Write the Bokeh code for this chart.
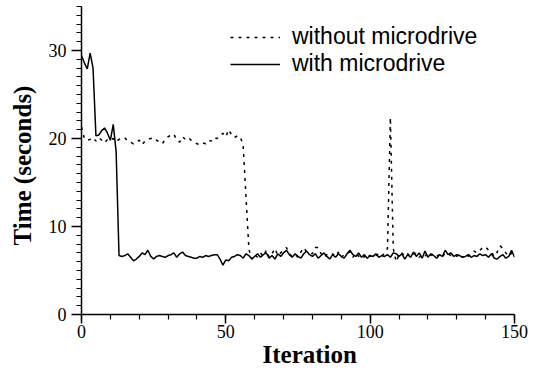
from bokeh.plotting import figure
from bokeh.models import SingleIntervalTicker, Range1d, Legend, LegendItem, Title
from bokeh.embed import file_html
from bokeh.resources import INLINE

iterations = list(range(0, 151))

with_microdrive = [
    29.4, 28.6, 27.9, 29.7, 28.0, 20.3, 20.4, 20.9, 21.2, 20.6,
    19.8, 21.6, 18.5, 6.7, 6.6, 6.7, 6.9, 6.5, 6.1, 6.3,
    6.6, 7.0, 6.8, 7.3, 6.6, 6.3, 6.6, 6.7, 6.6, 6.5,
    6.7, 6.8, 7.0, 6.5, 6.9, 7.1, 6.7, 6.6, 6.5, 6.4,
    6.4, 6.6, 6.5, 6.7, 6.6, 6.7, 6.8, 6.8, 6.3, 5.6,
    6.2, 6.1, 6.5, 6.6, 6.8, 6.7, 6.4, 6.9, 6.7, 6.3,
    6.6, 6.9, 6.5, 6.8, 7.0, 6.4, 6.7, 6.3, 6.9, 6.6,
    7.0, 7.3, 6.8, 6.5, 6.9, 6.6, 6.4, 6.9, 7.2, 6.8,
    6.6, 6.9, 6.4, 6.7, 7.0, 6.6, 6.3, 6.8, 6.5, 6.9,
    6.6, 6.4, 6.9, 7.3, 6.8, 6.6, 7.0, 6.5, 6.8, 6.4,
    6.7, 6.6, 6.9, 6.5, 6.7, 6.6, 6.8, 6.5, 7.0, 6.9,
    6.6, 6.9, 6.3, 6.8, 6.5, 7.1, 6.6, 7.0, 6.4, 7.2,
    6.5, 6.9, 6.7, 6.4, 6.8, 6.6, 7.3, 6.8, 7.0, 6.6,
    6.8, 6.7, 6.5, 6.6, 6.8, 6.5, 6.7, 6.6, 6.9, 6.7,
    6.8, 6.5, 6.9, 6.4, 6.3, 6.6, 6.8, 6.4, 6.6, 7.3,
    6.5,
]

without_microdrive = [
    21.3, 20.0, 19.8, 19.9, 20.1, 19.7, 20.1, 19.8, 19.5, 19.9,
    19.8, 20.0, 19.6, 19.9, 20.0, 20.1, 19.7, 19.6, 19.4, 19.6,
    19.8, 19.3, 19.7, 19.9, 20.0, 20.1, 19.8, 19.6, 19.4, 19.9,
    20.2, 20.4, 20.5, 19.8, 19.6, 20.2, 19.9, 20.1, 19.8, 19.6,
    19.4, 19.3, 19.5, 19.4, 19.8, 19.7, 20.1, 20.0, 20.3, 20.6,
    20.2, 21.0, 20.4, 20.1, 20.3, 20.2, 19.2, 13.3, 7.4, 6.3,
    6.8, 6.5, 7.0, 6.6, 7.3, 6.5, 6.9, 7.5, 6.7, 7.0,
    7.3, 7.6, 6.9, 6.6, 6.8, 6.5, 7.1, 7.6, 7.1, 7.0,
    6.9, 7.6, 7.6, 6.9, 6.5, 6.8, 6.7, 6.9, 6.6, 7.1,
    6.5, 6.8, 7.0, 7.1, 6.5, 7.0, 6.6, 6.8, 6.5, 6.9,
    6.6, 6.8, 6.7, 6.9, 6.6, 7.0, 7.5, 22.4, 7.5, 6.0,
    6.8, 7.0, 6.6, 6.9, 6.6, 6.8, 7.0, 6.5, 6.8, 6.6,
    7.0, 6.7, 6.9, 6.6, 6.8, 6.5, 7.0, 6.9, 6.7, 6.8,
    6.6, 6.9, 6.5, 6.8, 6.6, 6.9, 7.2, 7.0, 7.3, 7.6,
    7.7, 7.3, 7.1, 6.6, 7.1, 7.8, 7.5, 7.0, 6.6, 7.0,
    6.8,
]

x_ticks_interval = 50
y_ticks_interval = 10
x_title = "Iteration"
y_title = "Time (seconds)"
series_labels = ["without microdrive", "with microdrive"]

p = figure(width=548, height=373, output_backend="svg", toolbar_location=None,
           x_range=Range1d(0, 150), y_range=Range1d(0, 35),
           min_border_left=80, min_border_right=34, min_border_top=6,
           min_border_bottom=59)
p.outline_line_color = None
p.xgrid.grid_line_color = None
p.ygrid.grid_line_color = None
p.background_fill_color = "white"
p.border_fill_color = "white"

r_without = p.line(iterations, without_microdrive, line_color="black",
                   line_width=1.5, line_dash="3 5")
r_with = p.line(iterations, with_microdrive, line_color="black", line_width=1.5)

p.xaxis.ticker = SingleIntervalTicker(interval=x_ticks_interval, num_minor_ticks=5)
p.yaxis.ticker = SingleIntervalTicker(interval=y_ticks_interval, num_minor_ticks=10)

for ax in (p.xaxis[0], p.yaxis[0]):
    ax.axis_line_color = "black"
    ax.axis_line_width = 1.5
    ax.major_tick_line_color = "black"
    ax.minor_tick_line_color = "black"
    ax.major_tick_line_width = 1.5
    ax.minor_tick_line_width = 1.2
    ax.major_tick_in = 0
    ax.minor_tick_in = 0
    ax.major_label_text_font = "Liberation Serif"
    ax.major_label_text_font_size = "18px"
    ax.major_label_text_color = "black"

p.xaxis.major_tick_out = 9
p.xaxis.minor_tick_out = 5
p.yaxis.major_tick_out = 10
p.yaxis.minor_tick_out = 5
p.xaxis.major_label_standoff = 1
p.yaxis.major_label_standoff = 5

# axis titles, offset along the axis like the original
t_x = Title(text=x_title, align="left", offset=181, standoff=-4,
            text_font="Liberation Serif", text_font_style="bold",
            text_font_size="25px", text_color="black")
p.add_layout(t_x, "below")
t_y = Title(text=y_title, align="left", offset=69, standoff=16,
            vertical_align="top",
            text_font="Liberation Serif", text_font_style="bold",
            text_font_size="25px", text_color="black")
p.add_layout(t_y, "left")

legend = Legend(items=[
    LegendItem(label=series_labels[0], renderers=[r_without]),
    LegendItem(label=series_labels[1], renderers=[r_with]),
], location=(149, 237))
legend.border_line_alpha = 0
legend.background_fill_alpha = 0
legend.padding = 0
legend.margin = 0
legend.spacing = -4
legend.glyph_width = 50
legend.glyph_height = 20
legend.label_height = 20
legend.label_standoff = 12
legend.label_text_font = "Liberation Sans"
legend.label_text_font_size = "23px"
legend.label_text_color = "black"
p.add_layout(legend, "center")

open("out.html", "w").write(file_html(p, INLINE))
